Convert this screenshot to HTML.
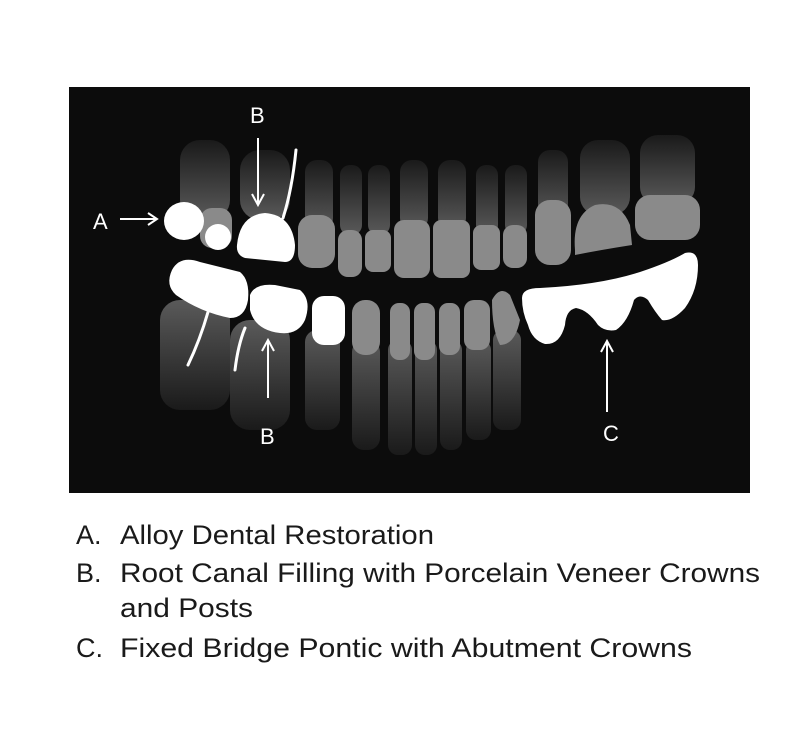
<!DOCTYPE html>
<html><head><meta charset="utf-8"><style>
html,body{margin:0;padding:0;background:#fff;}
svg{display:block;}
</style></head><body>
<svg width="800" height="732" viewBox="0 0 800 732" xmlns="http://www.w3.org/2000/svg">
<defs>
<linearGradient id="ru" x1="0" y1="0" x2="0" y2="1"><stop offset="0" stop-color="#1a1a1a"/><stop offset="1" stop-color="#5a5a5a"/></linearGradient>
<linearGradient id="rl" x1="0" y1="0" x2="0" y2="1"><stop offset="0" stop-color="#5a5a5a"/><stop offset="1" stop-color="#1a1a1a"/></linearGradient>
</defs>
<rect x="69" y="87" width="681" height="406" fill="#0c0c0c"/>
<g fill="url(#ru)">
<rect x="180" y="140" width="50" height="80" rx="20"/>
<rect x="240" y="150" width="50" height="70" rx="20"/>
<rect x="305" y="160" width="28" height="70" rx="12"/>
<rect x="340" y="165" width="22" height="70" rx="10"/>
<rect x="368" y="165" width="22" height="70" rx="10"/>
<rect x="400" y="160" width="28" height="70" rx="12"/>
<rect x="438" y="160" width="28" height="70" rx="12"/>
<rect x="476" y="165" width="22" height="70" rx="10"/>
<rect x="505" y="165" width="22" height="70" rx="10"/>
<rect x="538" y="150" width="30" height="70" rx="12"/>
<rect x="580" y="140" width="50" height="75" rx="18"/>
<rect x="640" y="135" width="55" height="70" rx="18"/>
</g>
<g fill="url(#rl)">
<rect x="160" y="300" width="70" height="110" rx="20"/>
<rect x="230" y="320" width="60" height="110" rx="20"/>
<rect x="305" y="330" width="35" height="100" rx="12"/>
<rect x="352" y="340" width="28" height="110" rx="12"/>
<rect x="388" y="340" width="24" height="115" rx="10"/>
<rect x="415" y="340" width="22" height="115" rx="10"/>
<rect x="440" y="340" width="22" height="110" rx="10"/>
<rect x="466" y="340" width="25" height="100" rx="10"/>
<rect x="493" y="330" width="28" height="100" rx="10"/>
</g>
<g fill="#8a8a8a">
<rect x="200" y="208" width="32" height="40" rx="12"/>
<rect x="298" y="215" width="37" height="53" rx="14"/>
<rect x="338" y="230" width="24" height="47" rx="10"/>
<rect x="365" y="230" width="26" height="42" rx="8"/>
<rect x="394" y="220" width="36" height="58" rx="10"/>
<rect x="433" y="220" width="37" height="58" rx="8"/>
<rect x="473" y="225" width="27" height="45" rx="8"/>
<rect x="503" y="225" width="24" height="43" rx="10"/>
<rect x="535" y="200" width="36" height="65" rx="15"/>
<path d="M575 250 Q572 215 595 205 Q620 200 630 225 L632 245 Q600 250 575 255Z"/>
<rect x="635" y="195" width="65" height="45" rx="15"/>
</g>
<g fill="#8a8a8a">
<rect x="352" y="300" width="28" height="55" rx="13"/>
<rect x="390" y="303" width="20" height="57" rx="9"/>
<rect x="414" y="303" width="21" height="57" rx="9"/>
<rect x="439" y="303" width="21" height="52" rx="9"/>
<rect x="464" y="300" width="26" height="50" rx="10"/>
<path d="M492 300 Q500 285 510 295 L520 320 Q515 345 500 345 Q492 330 492 300Z"/>
</g>
<g fill="#fff">
<ellipse cx="184" cy="221" rx="20" ry="19"/>
<circle cx="218" cy="237" r="13"/>
<path d="M237 245 Q240 215 265 213 Q292 215 295 245 Q295 262 285 262 L245 258 Q236 255 237 245Z"/>
<path d="M172 270 Q180 255 200 262 L240 272 Q250 280 248 300 Q245 318 230 318 Q200 312 176 295 Q165 285 172 270Z"/>
<path d="M250 295 Q255 283 275 285 L300 290 Q312 300 305 320 Q298 335 280 333 Q255 330 250 310Z"/>
<rect x="312" y="296" width="33" height="49" rx="12"/>
<path d="M522 298 Q522 288 540 288 Q600 285 640 272 Q670 262 685 253 Q698 250 698 265 Q698 290 685 308 Q672 322 662 320 Q655 312 648 300 Q640 293 634 300 Q628 322 616 330 Q605 332 598 325 Q588 310 576 308 Q566 310 565 325 Q560 345 545 344 Q532 340 528 325 Q522 312 522 298Z"/>
</g>
<g stroke="#fff" stroke-width="3" fill="none" stroke-linecap="round">
<path d="M296 150 Q292 190 283 218"/>
<path d="M208 312 Q200 340 188 365"/>
<path d="M245 328 Q238 345 235 370"/>
</g>
<g stroke="#fff" stroke-width="2" fill="none">
<line x1="120" y1="219" x2="156" y2="219"/>
<path d="M148 213 L157 219 L148 225"/>
<line x1="258" y1="138" x2="258" y2="204"/>
<path d="M252 194 L258 205 L264 194"/>
<line x1="268" y1="398" x2="268" y2="341"/>
<path d="M262 351 L268 340 L274 351"/>
<line x1="607" y1="412" x2="607" y2="342"/>
<path d="M601 352 L607 341 L613 352"/>
</g>
<g fill="#fff" font-family="Liberation Sans, sans-serif" font-size="22">
<text x="250" y="123">B</text>
<text x="93" y="229">A</text>
<text x="260" y="444">B</text>
<text x="603" y="441">C</text>
</g>
<g fill="#1a1a1a" font-family="Liberation Sans, sans-serif" font-size="27">
<text x="76" y="544">A.</text>
<text x="120" y="544" textLength="314" lengthAdjust="spacingAndGlyphs">Alloy Dental Restoration</text>
<text x="76" y="582">B.</text>
<text x="120" y="582" textLength="640" lengthAdjust="spacingAndGlyphs">Root Canal Filling with Porcelain Veneer Crowns</text>
<text x="120" y="617" textLength="133" lengthAdjust="spacingAndGlyphs">and Posts</text>
<text x="76" y="657">C.</text>
<text x="120" y="657" textLength="572" lengthAdjust="spacingAndGlyphs">Fixed Bridge Pontic with Abutment Crowns</text>
</g>
</svg>
</body></html>
